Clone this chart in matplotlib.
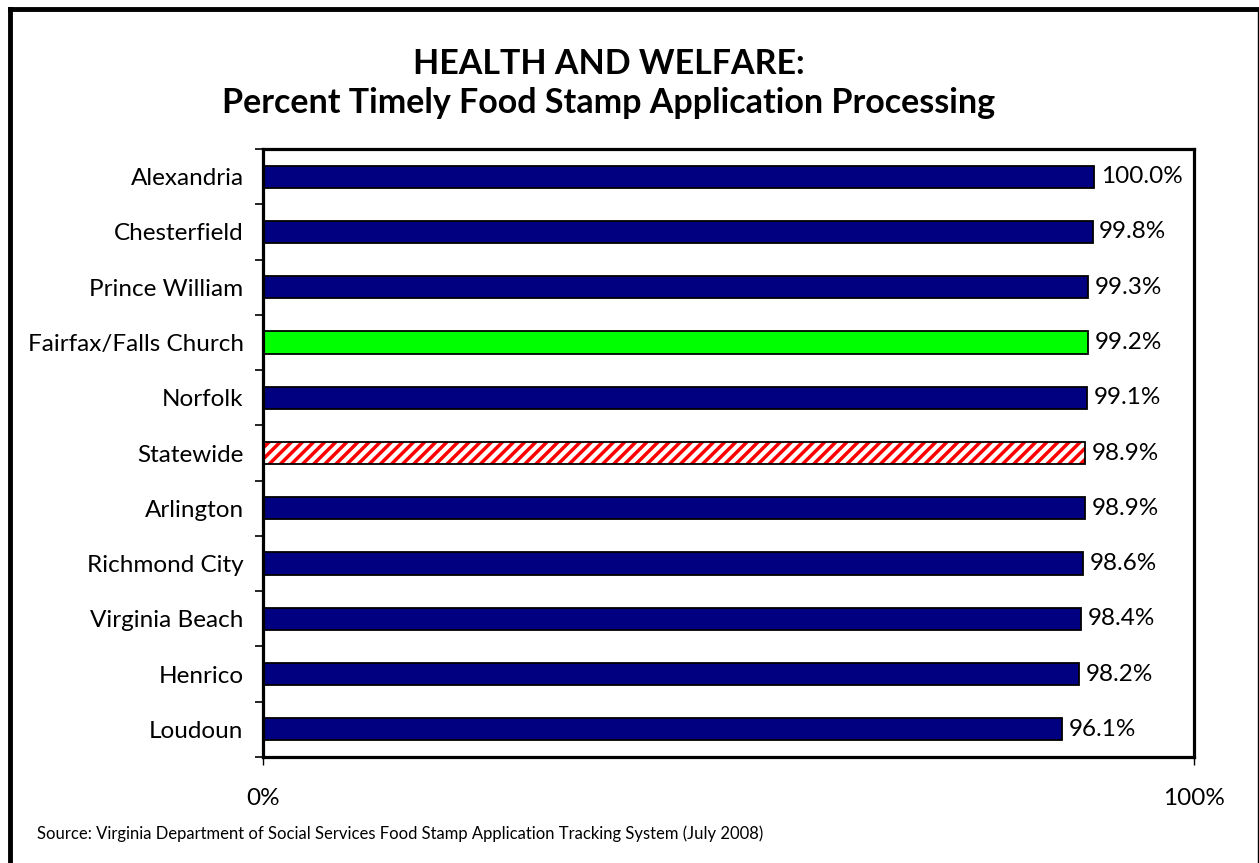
import matplotlib
matplotlib.use("Agg")
import matplotlib.pyplot as plt
from matplotlib.lines import Line2D
import numpy as np

plt.rcParams['font.family'] = ['Lato', 'DejaVu Sans']
plt.rcParams['hatch.linewidth'] = 2.5

###### DATA ##########
localities = ['Alexandria', 'Chesterfield', 'Prince William', 'Fairfax/Falls Church',
              'Norfolk', 'Statewide', 'Arlington', 'Richmond City', 'Virginia Beach',
              'Henrico', 'Loudoun']
percents = [100.0, 99.8, 99.3, 99.2, 99.1, 98.9, 98.9, 98.6, 98.4, 98.2, 96.1]
x_tick_labels = ['0%', '100%']
title_lines = ['HEALTH AND WELFARE:', 'Percent Timely Food Stamp Application Processing']
source = 'Source: Virginia Department of Social Services Food Stamp Application Tracking System (July 2008)'
######################

W, H = 1259, 863
fig = plt.figure(figsize=(W / 100, H / 100), dpi=100)
ax = fig.add_axes([263 / W, 106 / H, 931 / W, 608 / H])

x_max = 112.0
n = len(localities)
ypos = np.arange(n)

for i, (name, val) in enumerate(zip(localities, percents)):
    if name == 'Statewide':
        # hatch drawn in red, outline drawn over it in black
        ax.barh(i, val, height=0.4, color='white', edgecolor='red', hatch='///', lw=0)
        ax.barh(i, val, height=0.4, fill=False, edgecolor='black', lw=1.3)
    elif name == 'Fairfax/Falls Church':
        ax.barh(i, val, height=0.4, color='#00ff00', edgecolor='black', lw=1.3)
    else:
        ax.barh(i, val, height=0.4, color='#000080', edgecolor='black', lw=1.3)
    ax.text(val + 0.8, i, '%.1f%%' % val, va='center', ha='left', fontsize=17.5)

ax.set_ylim(n - 0.5, -0.5)
ax.set_xlim(0, x_max)
ax.set_yticks(ypos)
ax.set_yticklabels(localities, fontsize=17.5)
ax.set_yticks(np.arange(n + 1) - 0.5, minor=True)
ax.tick_params(axis='y', which='major', length=0, pad=14)
ax.tick_params(axis='y', which='minor', length=6, width=1.2, direction='out')
ax.set_xticks([0, x_max])
ax.set_xticklabels(x_tick_labels, fontsize=17.5)
ax.tick_params(axis='x', length=6, width=1, direction='out', pad=16)
for s in ax.spines.values():
    s.set_linewidth(2.3)

fig.text(609 / W, 1 - 64 / H, title_lines[0], ha='center', va='center',
         fontsize=24.5, fontweight='bold')
fig.text(609 / W, 1 - 103 / H, title_lines[1], ha='center', va='center',
         fontsize=24.5, fontweight='bold')
fig.text(37 / W, 1 - 834 / H, source, ha='left', va='center', fontsize=12)

# outer frame
fig.add_artist(Line2D([9.5 / W, 9.5 / W], [0, 1 - 9.5 / H], color='black', lw=3.5))
fig.add_artist(Line2D([9.5 / W, 1258 / W], [1 - 9.5 / H, 1 - 9.5 / H], color='black', lw=3.5))
fig.add_artist(Line2D([1258 / W, 1258 / W], [0, 1 - 9.5 / H], color='black', lw=1))

fig.savefig('out.png', dpi=100)
